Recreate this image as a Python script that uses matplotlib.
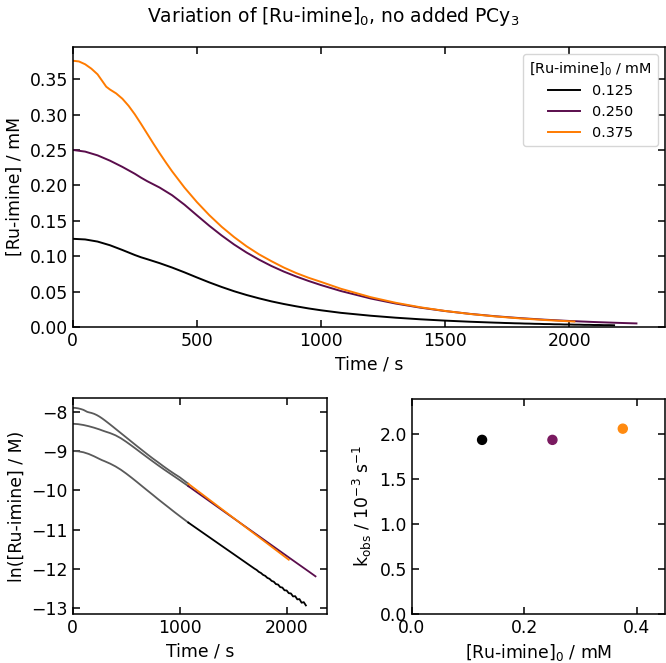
import matplotlib

matplotlib.use("Agg")
import matplotlib.pyplot as plt
import numpy as np

# Concentration traces (time / s, [Ru-imine] / mM)
t_0125 = [0, 50, 100, 150, 200, 250, 275, 300, 350, 400, 450, 500, 550, 600, 650, 700,
          750, 800, 850, 900, 950, 1000, 1080, 1200, 1300, 1400, 1500, 1600, 1700,
          1720, 1740, 1760, 1780, 1800, 1820, 1840, 1860, 1880, 1900, 1920, 1940,
          1960, 1980, 2000, 2020, 2040, 2060, 2080, 2100, 2120, 2140, 2160, 2180]
c_0125 = [0.1246, 0.1237, 0.1207, 0.1155, 0.1088, 0.1017, 0.0985, 0.0958, 0.0902, 0.0840,
          0.0772, 0.0700, 0.0630, 0.0565, 0.0505, 0.0452, 0.0405, 0.0362, 0.0325, 0.0292,
          0.0262, 0.0236, 0.0200, 0.01591, 0.01315, 0.01087, 0.00899, 0.00743, 0.00614,
          0.00594, 0.00566, 0.00550, 0.00524, 0.00511, 0.00485, 0.00474, 0.00449, 0.00440,
          0.00414, 0.00409, 0.00383, 0.00379, 0.00353, 0.00352, 0.00328, 0.00326, 0.00302,
          0.00304, 0.00280, 0.00282, 0.00257, 0.00261, 0.00240]

t_0250 = [0, 50, 100, 150, 200, 250, 275, 300, 350, 400, 450, 500, 550, 600, 650, 700,
          750, 800, 850, 900, 950, 1000, 1080, 1200, 1300, 1400, 1500, 1600, 1700, 1800,
          1900, 2000, 2100, 2200, 2270]
c_0250 = [0.2502, 0.2478, 0.2425, 0.2350, 0.2262, 0.2165, 0.2110, 0.2060, 0.1970, 0.1862,
          0.1728, 0.1578, 0.1430, 0.1292, 0.1165, 0.1052, 0.0952, 0.0862, 0.0783, 0.0713,
          0.0650, 0.0592, 0.0508, 0.04025, 0.03315, 0.0273, 0.02249, 0.01852, 0.01526,
          0.01257, 0.01035, 0.00852, 0.00702, 0.00579, 0.00505]

t_0375 = [0, 25, 50, 75, 100, 120, 135, 150, 175, 200, 225, 250, 275, 300, 325, 350, 375,
          400, 450, 500, 550, 600, 650, 700, 750, 800, 850, 900, 950, 1000, 1080, 1200,
          1300, 1400, 1500, 1600, 1700, 1800, 1900, 2000, 2020]
c_0375 = [0.3762, 0.3752, 0.3712, 0.3650, 0.3570, 0.3470, 0.3395, 0.3355, 0.3300, 0.3225,
          0.3125, 0.3005, 0.2870, 0.2730, 0.2590, 0.2455, 0.2325, 0.2200, 0.1970, 0.1765,
          0.1580, 0.1415, 0.1270, 0.1140, 0.1027, 0.0930, 0.0840, 0.0762, 0.0695, 0.0637,
          0.0540, 0.04212, 0.03425, 0.02784, 0.02264, 0.0184, 0.01496, 0.01217, 0.00989,
          0.00804, 0.00772]

conc_labels = ["0.125", "0.250", "0.375"]
conc0 = [0.125, 0.250, 0.375]
k_obs = [1.94, 1.94, 2.065]  # 10^-3 s^-1
colors = ["black", "#5a0d4c", "#ff7b00"]
scatter_colors = ["black", "#7a1a60", "#ff8a10"]
fit_start = 1080  # s, start of the linear ln-fit region

plt.rcParams["font.family"] = "DejaVu Sans"
plt.rcParams["font.size"] = 12.4
plt.rcParams["axes.linewidth"] = 1.1

fig = plt.figure(figsize=(6.66, 6.63), dpi=100)
ax_top = fig.add_axes([0.1092, 0.5068, 0.8893, 0.4223])
ax_ln = fig.add_axes([0.1092, 0.0739, 0.3814, 0.3258])
ax_k = fig.add_axes([0.6182, 0.0744, 0.3803, 0.3243])

series = [(t_0125, c_0125), (t_0250, c_0250), (t_0375, c_0375)]

for (t, c), col, lab in zip(series, colors, conc_labels):
    ax_top.plot(t, c, color=col, lw=1.4, label=lab)
ax_top.set_xlim(0, 2385)
ax_top.set_ylim(0, 0.3956)
ax_top.set_xticks([0, 500, 1000, 1500, 2000])
ax_top.set_yticks(np.arange(0, 0.36, 0.05))
ax_top.set_xlabel("Time / s")
ax_top.set_ylabel("[Ru-imine] / mM")
ax_top.legend(title="[Ru-imine]$_0$ / mM", loc="upper right", fontsize=10.4,
              title_fontsize=10.4, handlelength=2.2)

# ln plot: grey before the fit region, coloured after
for (t, c), col in zip(series, colors):
    t = np.asarray(t)
    ln_c = np.log(np.asarray(c) * 1e-3)
    early = t <= fit_start
    late = t >= fit_start
    ax_ln.plot(t[early], ln_c[early], color="#5a5a5a", lw=1.3)
    ax_ln.plot(t[late], ln_c[late], color=col, lw=1.3)
ax_ln.set_xlim(0, 2375)
ax_ln.set_ylim(-13.16, -7.634)
ax_ln.set_xticks([0, 1000, 2000])
ax_ln.set_yticks([-13, -12, -11, -10, -9, -8])
ax_ln.set_xlabel("Time / s")
ax_ln.set_ylabel("ln([Ru-imine] / M)")

ax_k.scatter(conc0, k_obs, c=scatter_colors, s=42, zorder=3)
ax_k.set_xlim(0, 0.45)
ax_k.set_ylim(0, 2.4)
ax_k.set_xticks([0.0, 0.2, 0.4])
ax_k.set_yticks([0.0, 0.5, 1.0, 1.5, 2.0])
ax_k.set_xlabel("[Ru-imine]$_0$ / mM")
ax_k.set_ylabel("k$_\\mathrm{obs}$ / 10$^{-3}$ s$^{-1}$")

for ax in (ax_top, ax_ln, ax_k):
    ax.tick_params(direction="in", top=True, right=True, length=5, width=1.1)

fig.suptitle("Variation of [Ru-imine]$_0$, no added PCy$_3$", fontsize=13.5, y=0.993, va="top")

fig.savefig("out.png", dpi=100)
